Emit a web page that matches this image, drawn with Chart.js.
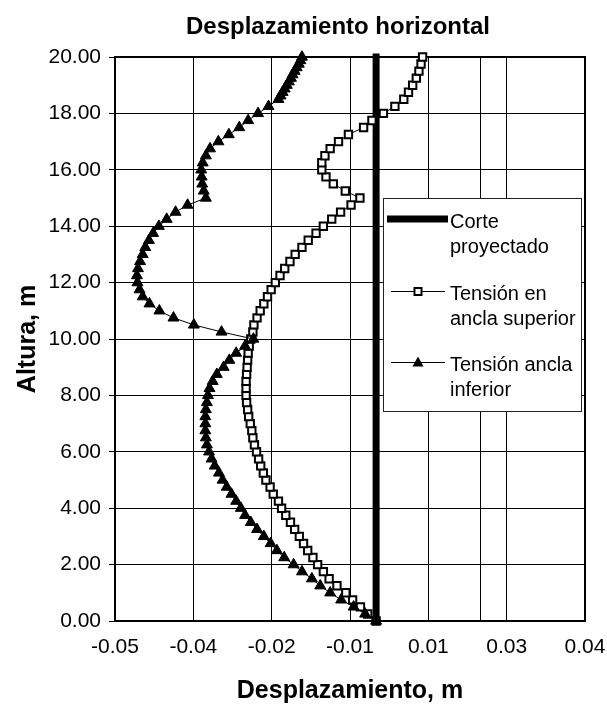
<!DOCTYPE html>
<html>
<head>
<meta charset="utf-8">
<script src="https://cdn.jsdelivr.net/npm/chart.js@4.4.1/dist/chart.umd.min.js"></script>
<style>
  body { margin: 0; background: #fff; }
  canvas { display: block; }
</style>
</head>
<body>
<canvas id="myChart" width="607" height="705"></canvas>
<script>
// Desplazamiento horizontal vs altura
const alturaCorte = [0, 20];
const despCorte = [0, 0];

const alturaSup = [
  0, 0.25, 0.5, 0.75, 1, 1.25, 1.5, 1.75, 2, 2.25,
  2.5, 2.75, 3, 3.25, 3.5, 3.75, 4, 4.25, 4.5, 4.75,
  5, 5.25, 5.5, 5.75, 6, 6.25, 6.5, 6.75, 7, 7.25,
  7.5, 7.75, 8, 8.25, 8.5, 8.75, 9, 9.25, 9.5, 9.75,
  10, 10.25, 10.5, 10.75, 11, 11.25, 11.5, 11.75, 12, 12.25,
  12.5, 12.75, 13, 13.25, 13.5, 13.75, 14, 14.25, 14.5, 14.75,
  15, 15.25, 15.5, 15.75, 16, 16.25, 16.5, 16.75, 17, 17.25,
  17.5, 17.75, 18, 18.25, 18.5, 18.75, 19, 19.25, 19.5, 19.75, 20
];
const despSup = [
  0.0000, -0.0016, -0.0030, -0.0045, -0.0058, -0.0075, -0.0090, -0.0101, -0.0112, -0.0121,
  -0.0131, -0.0139, -0.0147, -0.0156, -0.0164, -0.0173, -0.0181, -0.0187, -0.0197, -0.0203,
  -0.0211, -0.0216, -0.0221, -0.0225, -0.0229, -0.0233, -0.0236, -0.0238, -0.0241, -0.0244,
  -0.0246, -0.0248, -0.0249, -0.0249, -0.0249, -0.0248, -0.0247, -0.0246, -0.0245, -0.0243,
  -0.0240, -0.0236, -0.0234, -0.0228, -0.0222, -0.0215, -0.0208, -0.0201, -0.0193, -0.0184,
  -0.0175, -0.0165, -0.0155, -0.0142, -0.0130, -0.0115, -0.0101, -0.0085, -0.0068, -0.0048,
  -0.0031, -0.0059, -0.0082, -0.0096, -0.0104, -0.0104, -0.0098, -0.0088, -0.0072, -0.0053,
  -0.0024, -0.0008, 0.0014, 0.0036, 0.0053, 0.0062, 0.0070, 0.0077, 0.0082, 0.0086, 0.0089
];

const alturaInf = [
  0, 0.25, 0.5, 0.75, 1, 1.25, 1.5, 1.75, 2, 2.25,
  2.5, 2.75, 3, 3.25, 3.5, 3.75, 4, 4.25, 4.5, 4.75,
  5, 5.25, 5.5, 5.75, 6, 6.25, 6.5, 6.75, 7, 7.25,
  7.5, 7.75, 8, 8.25, 8.5, 8.75, 9, 9.25, 9.5, 9.75,
  10, 10.25, 10.5, 10.75, 11, 11.25, 11.5, 11.75, 12, 12.25,
  12.5, 12.75, 13, 13.25, 13.5, 13.75, 14, 14.25, 14.5, 14.75,
  15, 15.25, 15.5, 15.75, 16, 16.25, 16.5, 16.75, 17, 17.25,
  17.5, 17.75, 18, 18.25, 18.5,
  18.625, 18.75, 18.875, 19, 19.125, 19.25, 19.375, 19.5, 19.625, 19.75, 19.875, 20
];
const despInf = [
  0.0000, -0.0021, -0.0043, -0.0067, -0.0088, -0.0107, -0.0123, -0.0142, -0.0158, -0.0176,
  -0.0190, -0.0202, -0.0215, -0.0228, -0.0240, -0.0251, -0.0259, -0.0268, -0.0277, -0.0286,
  -0.0294, -0.0301, -0.0309, -0.0315, -0.0320, -0.0324, -0.0326, -0.0327, -0.0327, -0.0327,
  -0.0326, -0.0324, -0.0322, -0.0319, -0.0313, -0.0305, -0.0292, -0.0281, -0.0268, -0.0251,
  -0.0235, -0.0296, -0.0349, -0.0388, -0.0415, -0.0434, -0.0447, -0.0453, -0.0457, -0.0458,
  -0.0456, -0.0452, -0.0447, -0.0442, -0.0435, -0.0427, -0.0416, -0.0401, -0.0384, -0.0361,
  -0.0326, -0.0330, -0.0333, -0.0334, -0.0335, -0.0332, -0.0326, -0.0318, -0.0302, -0.0282,
  -0.0262, -0.0245, -0.0226, -0.0206, -0.0187,
  -0.0183, -0.0179, -0.0175, -0.0171, -0.0167, -0.0163, -0.0160, -0.0156, -0.0152, -0.0148, -0.0145, -0.0142
];

// eje x de excel: unidad mayor 0.015, etiquetas redondeadas a 2 decimales
const xTickValues = [-0.05, -0.035, -0.02, -0.005, 0.01, 0.02, 0.025, 0.04];
const xTickLabels = ['-0.05', '-0.04', '-0.02', '-0.01', '0.01', '', '0.03', '0.04'];

const legendItems = [
  { lines: ['Corte', 'proyectado'], kind: 'thick' },
  { lines: ['Tensión en', 'ancla superior'], kind: 'rect' },
  { lines: ['Tensión ancla', 'inferior'], kind: 'triangle' }
];

const FONT = "'Liberation Sans', Arial, sans-serif";
Chart.defaults.font.family = FONT;
Chart.defaults.color = '#000';

const toPoints = (xs, ys) => xs.map((x, i) => ({ x: x, y: ys[i] }));

const decor = {
  id: 'decor',
  beforeDraw(chart) {
    const ctx = chart.ctx;
    ctx.save();
    ctx.fillStyle = '#fff';
    ctx.fillRect(0, 0, chart.width, chart.height);
    ctx.restore();
  },
  beforeDatasetsDraw(chart) {
    const a = chart.chartArea;
    const ctx = chart.ctx;
    ctx.save();
    ctx.strokeStyle = '#000';
    ctx.lineWidth = 2;
    ctx.strokeRect(a.left, a.top, a.right - a.left, a.bottom - a.top);
    ctx.restore();
  },
  afterDatasetsDraw(chart) {
    // leyenda en caja, como en excel
    const ctx = chart.ctx;
    const bx = 383.5, by = 198.5, bw = 198, bh = 213;
    ctx.save();
    ctx.fillStyle = '#fff';
    ctx.fillRect(bx, by, bw, bh);
    ctx.strokeStyle = '#222';
    ctx.lineWidth = 1;
    ctx.strokeRect(bx, by, bw, bh);
    ctx.font = '20px ' + FONT;
    ctx.fillStyle = '#000';
    ctx.textBaseline = 'middle';
    ctx.textAlign = 'left';
    const rowY = [219, 291, 362];
    legendItems.forEach((item, i) => {
      const y = rowY[i];
      ctx.strokeStyle = '#000';
      if (item.kind === 'thick') {
        ctx.lineWidth = 7;
        ctx.beginPath(); ctx.moveTo(387, y); ctx.lineTo(448, y); ctx.stroke();
      } else {
        ctx.lineWidth = 1;
        ctx.beginPath(); ctx.moveTo(391, y + 0.5); ctx.lineTo(445, y + 0.5); ctx.stroke();
        if (item.kind === 'rect') {
          ctx.fillStyle = '#fff';
          ctx.lineWidth = 2;
          ctx.fillRect(414.5, y - 3, 7, 7);
          ctx.strokeRect(414.5, y - 3, 7, 7);
        } else {
          ctx.fillStyle = '#000';
          ctx.beginPath();
          ctx.moveTo(418, y - 5.5);
          ctx.lineTo(423.5, y + 4.5);
          ctx.lineTo(412.5, y + 4.5);
          ctx.closePath();
          ctx.fill();
        }
      }
      ctx.fillStyle = '#000';
      item.lines.forEach((t, k) => ctx.fillText(t, 450, y + 3 + k * 25));
    });
    ctx.restore();
  },
  afterDraw(chart) {
    const ctx = chart.ctx;
    const a = chart.chartArea;
    const cx = (a.left + a.right) / 2;
    ctx.save();
    ctx.fillStyle = '#000';
    ctx.textAlign = 'center';
    ctx.textBaseline = 'middle';
    ctx.font = 'bold 24px ' + FONT;
    ctx.fillText('Desplazamiento horizontal', 338, 27);
    ctx.font = 'bold 25px ' + FONT;
    ctx.fillText('Desplazamiento, m', cx, 691);
    ctx.translate(28, (a.top + a.bottom) / 2);
    ctx.rotate(-Math.PI / 2);
    ctx.fillText('Altura, m', 0, 0);
    ctx.restore();
  }
};

const ctx = document.getElementById('myChart').getContext('2d');
const chart = new Chart(ctx, {
  type: 'scatter',
  data: {
    datasets: [
      {
        label: 'Corte proyectado',
        data: toPoints(despCorte, alturaCorte),
        showLine: true,
        borderColor: '#000',
        borderWidth: 7,
        borderCapStyle: 'square',
        pointRadius: 0,
        clip: false,
        order: 3
      },
      {
        label: 'Tensión en ancla superior',
        data: toPoints(despSup, alturaSup),
        showLine: true,
        borderColor: '#000',
        borderWidth: 1,
        pointStyle: 'rect',
        pointRadius: 5.2,
        pointBackgroundColor: '#fff',
        pointBorderColor: '#000',
        pointBorderWidth: 2,
        clip: false,
        order: 2
      },
      {
        label: 'Tensión ancla inferior',
        data: toPoints(despInf, alturaInf),
        showLine: true,
        borderColor: '#000',
        borderWidth: 1,
        pointStyle: 'triangle',
        pointRadius: 6.3,
        pointBackgroundColor: '#000',
        pointBorderColor: '#000',
        pointBorderWidth: 1,
        clip: false,
        order: 1
      }
    ]
  },
  options: {
    responsive: false,
    animation: false,
    layout: { padding: { top: 57, right: 22, left: 0, bottom: 0 } },
    plugins: {
      legend: { display: false },
      tooltip: { enabled: false }
    },
    scales: {
      x: {
        type: 'linear',
        min: -0.05,
        max: 0.04,
        afterBuildTicks: axis => { axis.ticks = xTickValues.map(v => ({ value: v })); },
        afterFit: s => { s.height = 84; s.paddingLeft = 0; s.paddingRight = 0; },
        ticks: {
          autoSkip: false,
          maxRotation: 0,
          padding: 14,
          font: { size: 21 },
          callback: (v, i) => xTickLabels[i]
        },
        grid: { color: '#000', lineWidth: 1, drawTicks: false },
        border: { display: true, color: '#000', width: 2 }
      },
      y: {
        min: 0,
        max: 20,
        afterFit: s => { s.width = 115; s.paddingTop = 0; s.paddingBottom = 0; },
        ticks: {
          stepSize: 2,
          padding: 8,
          font: { size: 21 },
          callback: v => v.toFixed(2)
        },
        grid: { color: '#000', lineWidth: 1, tickLength: 6 },
        border: { display: true, color: '#000', width: 2 }
      }
    }
  },
  plugins: [decor]
});
</script>
</body>
</html>
